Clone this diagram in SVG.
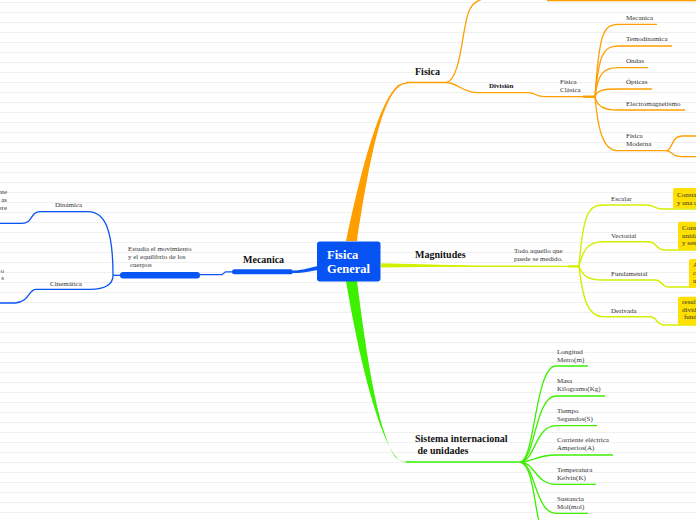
<svg xmlns="http://www.w3.org/2000/svg" width="696" height="520" viewBox="0 0 696 520">
<defs>
<pattern id="ruled" patternUnits="userSpaceOnUse" width="696" height="10"><line x1="0" y1="2.5" x2="696" y2="2.5" stroke="#f0f0f0" stroke-width="1"/></pattern>
</defs>
<style>
.t{font-family:"Liberation Serif",serif;font-size:7px;fill:#333}
.b{font-family:"Liberation Serif",serif;font-weight:bold;font-size:10px;fill:#111}
.bs{font-family:"Liberation Serif",serif;font-weight:bold;font-size:7px;fill:#111}
.c{font-family:"Liberation Serif",serif;font-weight:bold;font-size:12.5px;fill:#fff}
.o{fill:none;stroke:#ff9e00;stroke-width:1.3}
.y{fill:none;stroke:#d2f000;stroke-width:1.4}
.g{fill:none;stroke:#3cf000;stroke-width:1.3}
.bl{fill:none;stroke:#0a55f5;stroke-width:1.3}
.box{fill:#ffe000}
</style>
<rect width="696" height="520" fill="#fff"/>
<rect width="696" height="520" fill="url(#ruled)"/>

<g id="connectors">
  <!-- orange -->
  <path d="M346,241 C362,165 380,100 398,85 Q402,83 408,82 L408,83.2 Q403,84 400,86 C380,100 368,170 357,241 Z" fill="#ff9e00"/>
  <path class="o" d="M406,82.5 L446,82.5" style="stroke-width:1.5"/>
  <path class="o" d="M446,82.5 C462,80 462,22 470,9 Q474,1 483,-1"/>
  <path class="o" d="M547,0.4 L696,0.4" style="stroke-width:1.6"/>
  <path class="o" d="M446,82.5 C458,83 463,92.7 478,92.7 L528,92.7 C536,92.7 535,96.7 545,96.7 L595,96.7"/>
  <path class="o" d="M583,96.7 L596,96.7" style="stroke-width:2.4"/>
  <path class="o" d="M595,96.7 C599,35 603,24.3 618,24.3 L657,24.3"/>
  <path class="o" d="M595,96.7 C599,55 603,46 618,46 L672,46"/>
  <path class="o" d="M595,96.7 C598,74 603,67.7 618,67.7 L648,67.7"/>
  <path class="o" d="M595,96.7 C597,90 603,89 618,89 L652,89"/>
  <path class="o" d="M595,96.7 C597,106 603,110 618,110 L685,110"/>
  <path class="o" d="M595,96.7 C598,130 603,150.7 618,150.7 L666,150.7"/>
  <path class="o" d="M666,150.7 C673,150 671,136 682,136 L696,136"/>
  <path class="o" d="M666,150.7 C673,151 671,156.7 682,156.7 L696,156.7"/>
  <!-- yellow-green -->
  <path d="M381,263.3 L381,267.5 L470,266.4 L470,265.6 Z" fill="#d2f000"/>
  <path class="y" d="M381,266 L579,266.4"/>
  <path class="y" d="M568,266.4 L580,266.4" style="stroke-width:2.2"/>
  <path class="y" d="M579,266.4 C583,215 588,205 603,205 L647,205 C655,205 653,209 663,209 L696,209"/>
  <path class="y" d="M579,266.4 C583,250 588,241.7 603,241.7 L649,241.7 C657,241.7 655,250 665,250 L696,250"/>
  <path class="y" d="M579,266.4 C583,276 588,280 603,280 L655,280 C663,280 660,287 670,287 L696,287"/>
  <path class="y" d="M579,266.4 C583,300 588,316.7 603,316.7 L650,316.7 C658,316.7 655,325 665,325 L696,325"/>
  <!-- green -->
  <path d="M346,281 C360,365 380,440 398,459 Q402,462 410,461.6 L410,462.6 Q400,462 395,457 C378,430 367,360 357,281 Z" fill="#3cf000"/>
  <path class="g" d="M406,462 L520,462" style="stroke-width:1.5"/>
  <path class="g" d="M520,462 C535,462 535,366 556,366 L588,366"/>
  <path class="g" d="M520,462 C535,462 535,396 556,396 L605,396"/>
  <path class="g" d="M520,462 C535,462 535,425.7 556,425.7 L597,425.7"/>
  <path class="g" d="M520,462 C535,462 535,455 556,455 L613,455"/>
  <path class="g" d="M520,462 C535,462 535,484.3 556,484.3 L596,484.3"/>
  <path class="g" d="M520,462 C535,462 535,513.3 556,513.3 L588,513.3"/>
  <path class="g" d="M520,462 C532,464 534,500 539,522"/>
  <!-- blue -->
  <path d="M318,266 L318,270 C305,272.5 300,273 293,273 L293,270.5 C300,270.5 305,269 318,266 Z" fill="#0a55f5"/>
  <rect x="232" y="269.3" width="61" height="5" rx="2.5" fill="#0a55f5"/>
  <path class="bl" d="M200,274.7 L222,274.7 L225.5,271.8 L233,271.8"/>
  <rect x="120" y="272" width="80" height="6.5" rx="3.2" fill="#0a55f5"/>
  <path class="bl" d="M121,275.3 L113,275.3"/>
  <path class="bl" d="M113,275.3 C113,230 105,211.7 88,211.7 L40,211.7 C30,211.7 33,223.3 22,223.3 L0,223.3"/>
  <path class="bl" d="M113,275.3 C113,285 105,289.3 90,289.3 L36,289.3 C28,289.3 30,302 15,303 L0,303"/>
</g>

<g id="center">
  <rect x="317" y="241.5" width="63.5" height="40" rx="3" fill="#0652f2"/>
  <text class="c" x="327" y="259.3">Fisica</text>
  <text class="c" x="327" y="272.7">General</text>
</g>

<g id="fisica">
  <text class="b" x="415" y="75">Fisica</text>
  <text class="bs" x="489" y="88">División</text>
  <text class="t" x="560" y="84">Fisica</text>
  <text class="t" x="560" y="92">Clásica</text>
  <text class="t" x="626" y="20">Mecanica</text>
  <text class="t" x="626" y="41">Temodinamica</text>
  <text class="t" x="626" y="63">Ondas</text>
  <text class="t" x="626" y="84">Ópticas</text>
  <text class="t" x="626" y="106">Electromagnetismo</text>
  <text class="t" x="626" y="138">Fisica</text>
  <text class="t" x="626" y="146">Moderna</text>
</g>

<g id="magnitudes">
  <text class="b" x="415" y="258">Magnitudes</text>
  <text class="t" x="514" y="253">Todo aquello que</text>
  <text class="t" x="514" y="261">puede se medido.</text>
  <text class="t" x="611" y="201">Escalar</text>
  <text class="t" x="611" y="237.7">Vectorial</text>
  <text class="t" x="611" y="276">Fundamental</text>
  <text class="t" x="611" y="313">Derivada</text>
  <rect class="box" x="673" y="188" width="30" height="20.5" rx="2"/>
  <text class="t" x="677" y="197.3">Consta</text>
  <text class="t" x="677" y="205">y una u</text>
  <rect class="box" x="678" y="221.7" width="30" height="28.3" rx="2"/>
  <text class="t" x="682" y="230">Cons</text>
  <text class="t" x="682" y="237.5">unida</text>
  <text class="t" x="682" y="245">y sen</text>
  <rect class="box" x="689" y="259" width="20" height="29" rx="2"/>
  <text class="t" x="693" y="267.3">A</text>
  <text class="t" x="693" y="275">c</text>
  <text class="t" x="693" y="282.7">u</text>
  <rect class="box" x="678" y="296.7" width="30" height="28.3" rx="2"/>
  <text class="t" x="682" y="304">resul</text>
  <text class="t" x="682" y="311.7">divid</text>
  <text class="t" x="684" y="319.3">fund</text>
</g>

<g id="sistema">
  <text class="b" x="415" y="442.3">Sistema internacional</text>
  <text class="b" x="417.5" y="453.5">de unidades</text>
  <text class="t" x="557" y="354">Longitud</text>
  <text class="t" x="557" y="362">Metro(m)</text>
  <text class="t" x="557" y="382.7">Masa</text>
  <text class="t" x="557" y="390.7">Kilogramo(Kg)</text>
  <text class="t" x="557" y="412.7">Tiempo</text>
  <text class="t" x="557" y="420.7">Segundos(S)</text>
  <text class="t" x="557" y="441.7">Corriente eléctrica</text>
  <text class="t" x="557" y="450">Amperios(A)</text>
  <text class="t" x="557" y="471.7">Temperatura</text>
  <text class="t" x="557" y="480">Kelvin(K)</text>
  <text class="t" x="557" y="500.7">Sustancia</text>
  <text class="t" x="557" y="508.7">Mol(mol)</text>
</g>

<g id="mecanica">
  <text class="b" x="243" y="262.5">Mecanica</text>
  <text class="t" x="128" y="251.3">Estudia el movimiento</text>
  <text class="t" x="128" y="259">y el equilibrio de los</text>
  <text class="t" x="130" y="266.7">cuerpos</text>
  <text class="t" x="55" y="206.7">Dinámica</text>
  <text class="t" x="50" y="285.7">Cinemática</text>
  <text class="t" x="7" y="194" text-anchor="end">nte</text>
  <text class="t" x="7" y="202" text-anchor="end">as</text>
  <text class="t" x="7" y="209.7" text-anchor="end">ere</text>
  <text class="t" x="4" y="272.7" text-anchor="end">o</text>
  <text class="t" x="4" y="280.3" text-anchor="end">s</text>
</g>
</svg>
